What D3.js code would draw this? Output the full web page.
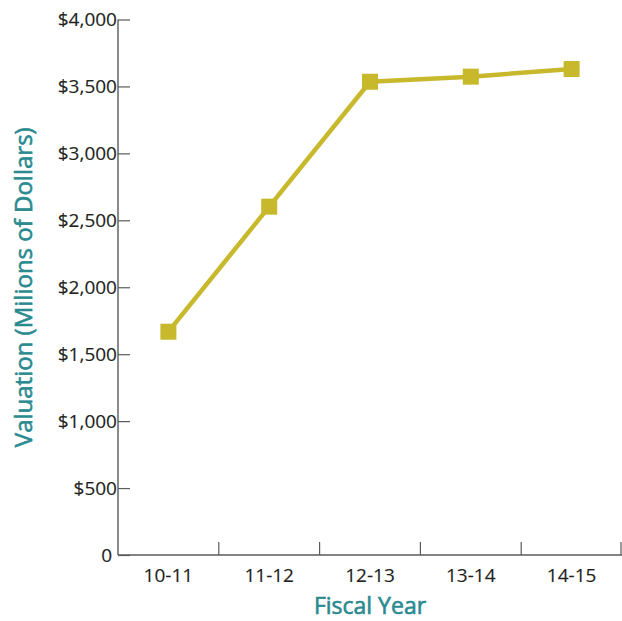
<!DOCTYPE html>
<html><head><meta charset="utf-8">
<script src="https://cdn.jsdelivr.net/npm/d3@7"></script>
<style>
html,body{margin:0;padding:0;background:#fff;}
svg{display:block;}
text{font-family:"Open Sans","Noto Sans",sans-serif;}
</style></head>
<body>
<svg id="chart" width="622" height="621"></svg>
<script>
const categories = ["10-11","11-12","12-13","13-14","14-15"];
const values = [1668, 2602, 3535, 3573, 3630];
const yTicks = [0,500,1000,1500,2000,2500,3000,3500,4000];
const xTitle = "Fiscal Year";
const yTitle = "Valuation (Milions of Dollars)";

const svg = d3.select("#chart");
const plotLeft = 118, plotRight = 622, plotTop = 19.5, plotBottom = 555;
const x = d3.scaleBand().domain(categories).range([plotLeft, plotRight]);
const y = d3.scaleLinear().domain([0, 4000]).range([plotBottom, plotTop]);
const lineColor = "#c8b82c", axisColor = "#5a5a5a", textColor = "#231f20", teal = "#2a8a8f";

// Y axis
const yAxis = d3.axisRight(y).tickValues(yTicks).tickSize(12).tickFormat("");
const gy = svg.append("g").attr("transform", `translate(${plotLeft},0)`).call(yAxis);
gy.select(".domain").remove();
gy.selectAll(".tick line").attr("stroke", axisColor).attr("stroke-width", 1.2);
svg.append("line").attr("x1", plotLeft).attr("x2", plotLeft).attr("y1", plotTop).attr("y2", plotBottom)
  .attr("stroke", axisColor).attr("stroke-width", 1.4);
svg.append("g").selectAll("text").data(yTicks).join("text")
  .attr("x", d => d === 0 ? 112 : 117)
  .attr("y", d => y(d))
  .attr("dy", "0.36em")
  .attr("text-anchor", "end")
  .attr("font-size", 19)
  .attr("fill", textColor)
  .attr("stroke", textColor).attr("stroke-width", 0.15)
  .text(d => d === 0 ? "0" : "$" + d3.format(",")(d));

// X axis
svg.append("line").attr("x1", plotLeft).attr("x2", plotRight).attr("y1", plotBottom).attr("y2", plotBottom)
  .attr("stroke", axisColor).attr("stroke-width", 1.4);
const xTickPos = categories.slice(1).map(c => x(c)).concat([plotRight - 1]);
svg.append("g").selectAll("line").data(xTickPos).join("line")
  .attr("x1", d => d).attr("x2", d => d)
  .attr("y1", plotBottom).attr("y2", plotBottom - 13)
  .attr("stroke", axisColor).attr("stroke-width", 1.2);
svg.append("g").selectAll("text").data(categories).join("text")
  .attr("x", d => x(d) + x.bandwidth() / 2)
  .attr("y", 582)
  .attr("text-anchor", "middle")
  .attr("font-size", 19)
  .attr("fill", textColor)
  .attr("stroke", textColor).attr("stroke-width", 0.15)
  .text(d => d);

// Titles
svg.append("text").attr("x", plotLeft + (plotRight - plotLeft) / 2).attr("y", 614)
  .attr("text-anchor", "middle").attr("font-size", 23)
  .attr("fill", teal).attr("stroke", teal).attr("stroke-width", 0.6).text(xTitle);
svg.append("text").attr("transform", `translate(32,${(plotTop + plotBottom) / 2}) rotate(-90)`)
  .attr("text-anchor", "middle").attr("font-size", 24)
  .attr("fill", teal).attr("stroke", teal).attr("stroke-width", 0.6).text(yTitle);

// Line + markers
const data = categories.map((c, i) => ({c, v: values[i]}));
const line = d3.line().x(d => x(d.c) + x.bandwidth() / 2).y(d => y(d.v));
svg.append("path").datum(data).attr("d", line).attr("fill", "none")
  .attr("stroke", lineColor).attr("stroke-width", 4.5).attr("stroke-linejoin", "miter");
svg.append("g").selectAll("rect").data(data).join("rect")
  .attr("x", d => x(d.c) + x.bandwidth() / 2 - 8)
  .attr("y", d => y(d.v) - 8)
  .attr("width", 16).attr("height", 16)
  .attr("fill", lineColor);
</script>
</body></html>
